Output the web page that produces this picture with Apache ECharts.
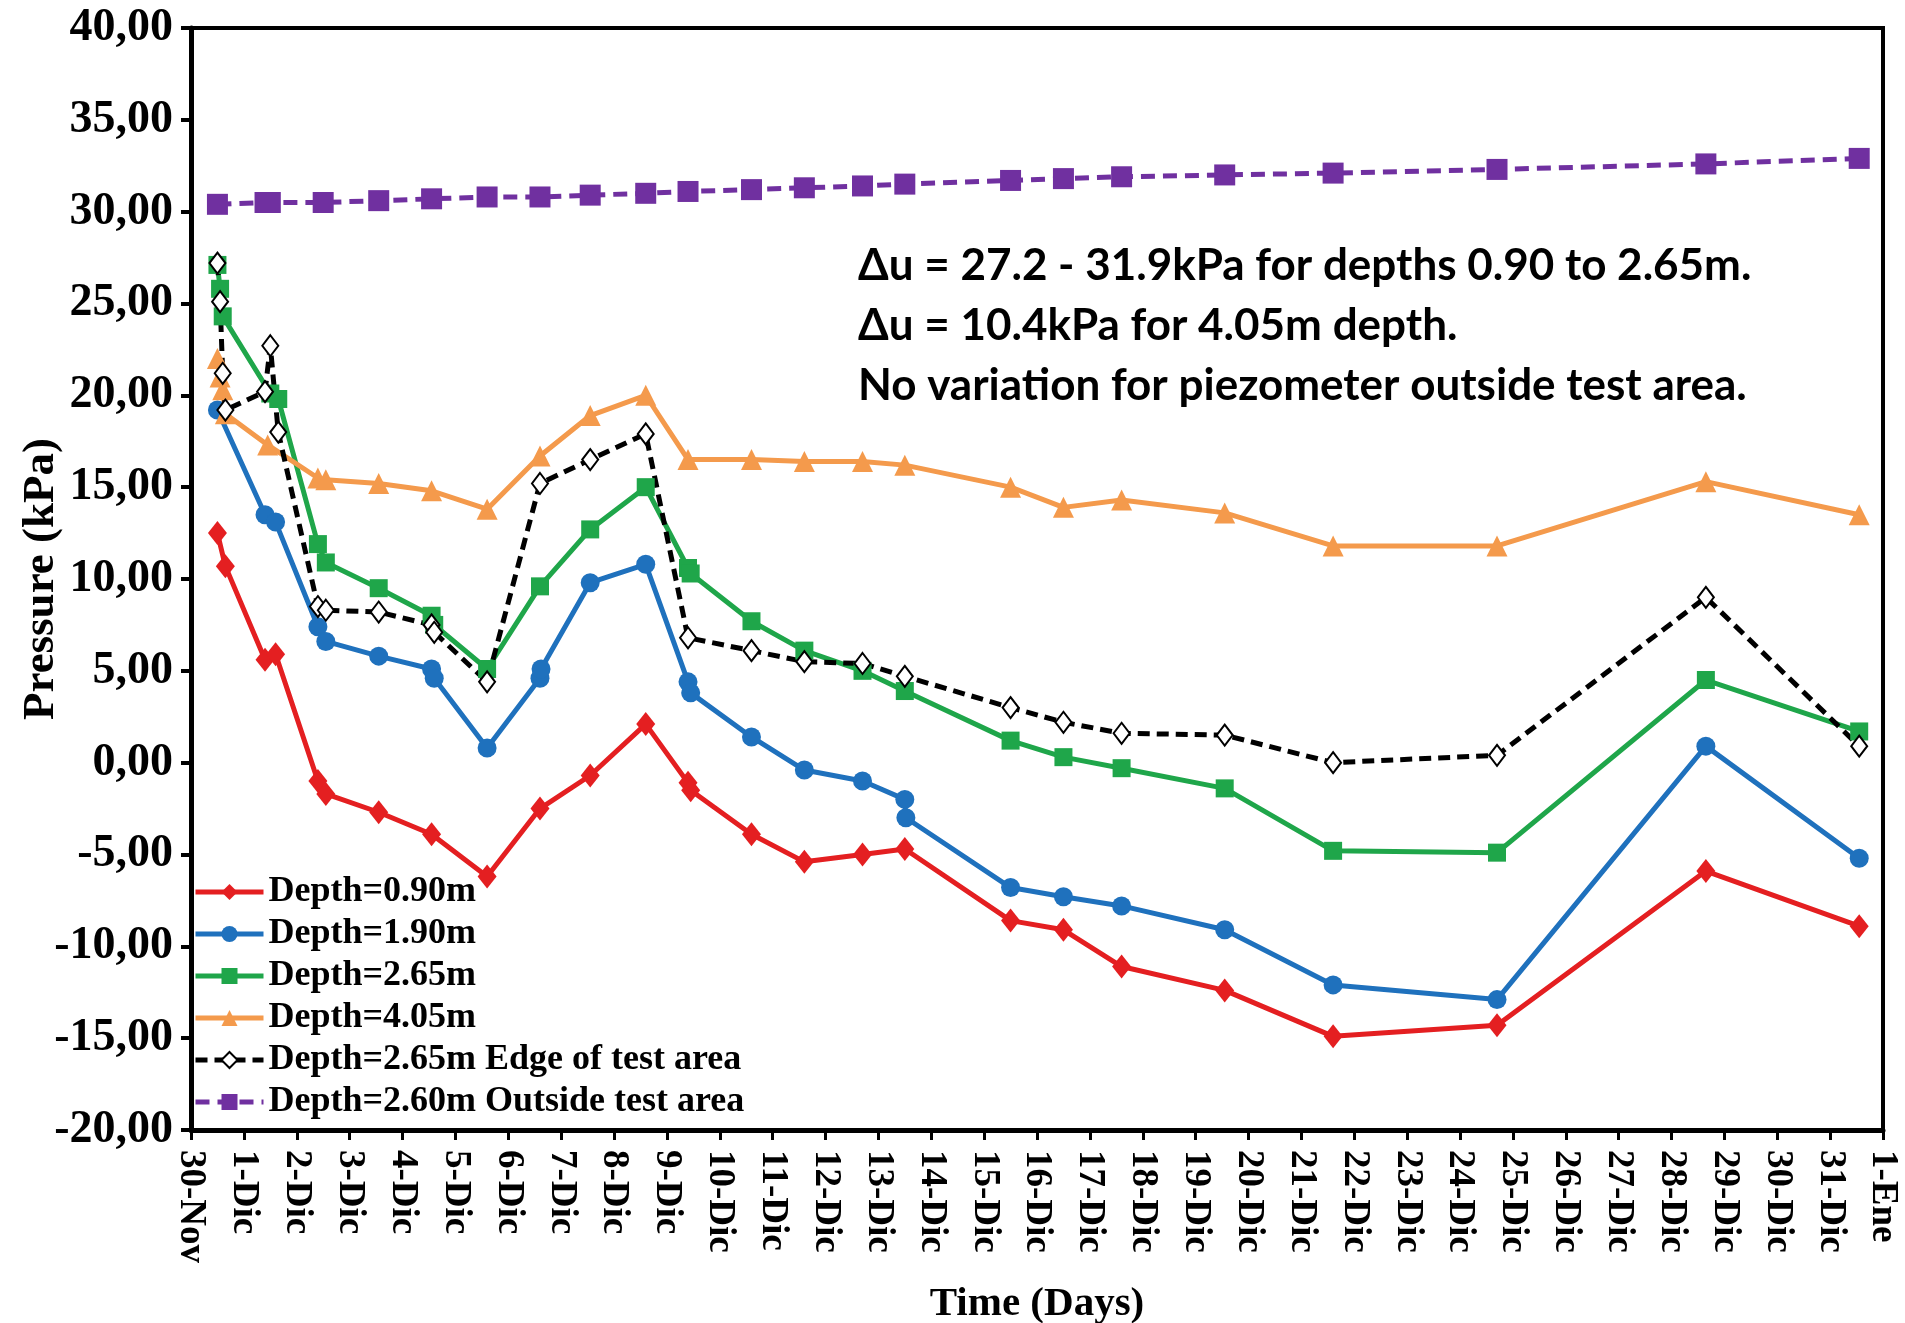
<!DOCTYPE html>
<html>
<head>
<meta charset="utf-8">
<title>Pore pressure vs time</title>
<script src="https://cdn.jsdelivr.net/npm/echarts@6/dist/echarts.min.js"></script>
<style>
  html, body { margin: 0; padding: 0; background: #fff; }
  #chart { width: 1905px; height: 1323px; }
</style>
</head>
<body>
<div id="chart"></div>
<script>
// days after 30-Nov, pressure in kPa
const xTickLabels = ['30-Nov', '1-Dic', '2-Dic', '3-Dic', '4-Dic', '5-Dic', '6-Dic', '7-Dic', '8-Dic', '9-Dic',
  '10-Dic', '11-Dic', '12-Dic', '13-Dic', '14-Dic', '15-Dic', '16-Dic', '17-Dic', '18-Dic', '19-Dic',
  '20-Dic', '21-Dic', '22-Dic', '23-Dic', '24-Dic', '25-Dic', '26-Dic', '27-Dic', '28-Dic', '29-Dic',
  '30-Dic', '31-Dic', '1-Ene'];

const seriesNames = ['Depth=0.90m', 'Depth=1.90m', 'Depth=2.65m', 'Depth=4.05m',
  'Depth=2.65m Edge of test area', 'Depth=2.60m Outside test area'];

const depth090 = [[0.5, 12.5], [0.65, 10.7], [1.4, 5.6], [1.6, 5.9], [2.4, -1.0], [2.55, -1.7], [3.55, -2.7],
  [4.55, -3.9], [5.6, -6.2], [6.6, -2.5], [7.55, -0.7], [8.6, 2.1], [9.4, -1.1], [9.45, -1.5], [10.6, -3.9],
  [11.6, -5.4], [12.7, -5.0], [13.5, -4.7], [15.5, -8.6], [16.5, -9.1], [17.6, -11.1], [19.55, -12.4],
  [21.6, -14.9], [24.7, -14.3], [28.65, -5.9], [31.55, -8.9]];

const depth190 = [[0.5, 19.2], [1.4, 13.5], [1.6, 13.1], [2.4, 7.4], [2.55, 6.6], [3.55, 5.8], [4.55, 5.1],
  [4.6, 4.6], [5.6, 0.8], [6.6, 4.6], [6.62, 5.1], [7.55, 9.8], [8.6, 10.8], [9.4, 4.4], [9.45, 3.8],
  [10.6, 1.4], [11.6, -0.4], [12.7, -1.0], [13.5, -2.0], [13.52, -3.0], [15.5, -6.8], [16.5, -7.3],
  [17.6, -7.8], [19.55, -9.1], [21.6, -12.1], [24.7, -12.9], [28.65, 0.9], [31.55, -5.2]];

const depth265 = [[0.5, 27.1], [0.55, 25.8], [0.6, 24.3], [1.5, 20.1], [1.65, 19.8], [2.4, 11.9], [2.55, 10.9],
  [3.55, 9.5], [4.55, 8.0], [4.6, 7.5], [5.6, 5.1], [6.6, 9.6], [7.55, 12.7], [8.6, 15.0], [9.4, 10.6],
  [9.45, 10.3], [10.6, 7.7], [11.6, 6.1], [12.7, 5.0], [13.5, 3.9], [15.5, 1.2], [16.5, 0.3], [17.6, -0.3],
  [19.55, -1.4], [21.6, -4.8], [24.7, -4.9], [28.65, 4.5], [31.55, 1.7]];

const depth405 = [[0.5, 22.0], [0.55, 21.0], [0.6, 20.3], [0.65, 19.0], [1.45, 17.3], [2.4, 15.5], [2.55, 15.4],
  [3.55, 15.2], [4.55, 14.8], [5.6, 13.8], [6.6, 16.7], [7.55, 18.9], [8.6, 20.0], [9.4, 16.5], [10.6, 16.5],
  [11.6, 16.4], [12.7, 16.4], [13.5, 16.2], [15.5, 15.0], [16.5, 13.9], [17.6, 14.3], [19.55, 13.6],
  [21.6, 11.8], [24.7, 11.8], [28.65, 15.3], [31.55, 13.5]];

const edge265 = [[0.5, 27.2], [0.55, 25.1], [0.6, 21.2], [0.65, 19.2], [1.4, 20.2], [1.5, 22.7], [1.65, 18.0],
  [2.4, 8.5], [2.55, 8.3], [3.55, 8.2], [4.55, 7.5], [4.6, 7.1], [5.6, 4.4], [6.6, 15.2], [7.55, 16.5],
  [8.6, 17.9], [9.4, 6.8], [10.6, 6.1], [11.6, 5.5], [12.7, 5.4], [13.5, 4.7], [15.5, 3.0], [16.5, 2.2],
  [17.6, 1.6], [19.55, 1.5], [21.6, 0.0], [24.7, 0.4], [28.65, 9.0], [31.55, 0.9]];

const outside260 = [[0.5, 30.4], [1.4, 30.5], [1.5, 30.5], [2.5, 30.5], [3.55, 30.6], [4.55, 30.7], [5.6, 30.8],
  [6.6, 30.8], [7.55, 30.9], [8.6, 31.0], [9.4, 31.1], [10.6, 31.2], [11.6, 31.3], [12.7, 31.4], [13.5, 31.5],
  [15.5, 31.7], [16.5, 31.8], [17.6, 31.9], [19.55, 32.0], [21.6, 32.1], [24.7, 32.3], [28.65, 32.6],
  [31.55, 32.9]];

const noteLines = [
  '\u0394u = 27.2 - 31.9kPa for depths 0.90 to 2.65m.',
  '\u0394u = 10.4kPa for 4.05m depth.',
  'No variation for piezometer outside test area.',
];

const serif = '"Liberation Serif", "Times New Roman", serif';

function solid(name, data, color, symbol, size) {
  return {
    name, type: 'line', data, symbol, symbolSize: size,
    lineStyle: { color, width: 5 },
    itemStyle: { color },
  };
}

const chart = echarts.init(document.getElementById('chart'));

chart.setOption({
  animation: false,
  backgroundColor: '#fff',
  grid: {
    left: 191, right: 22, top: 28, bottom: 193,
    outerBoundsMode: 'none',
    show: true, borderColor: '#000', borderWidth: 4,
  },
  legend: {
    data: seriesNames,
    orient: 'vertical',
    left: 193, top: 874, padding: 0,
    itemWidth: 68, itemHeight: 20, itemGap: 6,
    lineStyle: { width: 5 },
    textStyle: { fontFamily: serif, fontWeight: 'bold', fontSize: 36, lineHeight: 36, color: '#000' },
  },
  xAxis: {
    type: 'value', min: 0, max: 32, interval: 1,
    name: 'Time (Days)', nameLocation: 'middle', nameGap: 154, nameMoveOverlap: false,
    nameTextStyle: { fontFamily: serif, fontWeight: 'bold', fontSize: 41, color: '#000' },
    axisLine: { onZero: false, lineStyle: { color: '#000', width: 5 } },
    axisTick: { length: 10, lineStyle: { color: '#000', width: 3 } },
    splitLine: { show: false },
    axisLabel: {
      rotate: -90, margin: 20,
      fontFamily: serif, fontWeight: 'bold', fontSize: 37, color: '#000',
      formatter: (v) => xTickLabels[Math.round(v)] || '',
    },
  },
  yAxis: {
    type: 'value', min: -20, max: 40, interval: 5,
    name: 'Pressure (kPa)', nameLocation: 'middle', nameGap: 127, nameMoveOverlap: false,
    nameTextStyle: { fontFamily: serif, fontWeight: 'bold', fontSize: 45, color: '#000' },
    axisLine: { show: true, onZero: false, lineStyle: { color: '#000', width: 5 } },
    axisTick: { show: true, length: 10, lineStyle: { color: '#000', width: 4 } },
    splitLine: { show: false },
    axisLabel: {
      margin: 18,
      fontFamily: serif, fontWeight: 'bold', fontSize: 46, color: '#000',
      formatter: (v) => v.toFixed(2).replace('.', ','),
    },
  },
  graphic: [{
    type: 'text',
    left: 858, top: 236,
    style: {
      text: noteLines.join('\n'),
      font: 'bold 44px Lato, "Open Sans", sans-serif',
      lineHeight: 60,
      fill: '#000',
    },
  }],
  series: [
    solid(seriesNames[0], depth090, '#e41f21', 'diamond', [19, 24]),
    solid(seriesNames[1], depth190, '#1f71bd', 'circle', 19),
    solid(seriesNames[2], depth265, '#1fa64a', 'rect', 18),
    solid(seriesNames[3], depth405, '#f49a4c', 'triangle', 21),
    {
      name: seriesNames[4], type: 'line', data: edge265,
      symbol: 'diamond', symbolSize: [16, 21],
      lineStyle: { color: '#000', width: 5, type: [12, 7] },
      itemStyle: { color: '#fff', borderColor: '#000', borderWidth: 2 },
    },
    {
      name: seriesNames[5], type: 'line', data: outside260,
      symbol: 'rect', symbolSize: 21,
      lineStyle: { color: '#7030a0', width: 5, type: [14, 8] },
      itemStyle: { color: '#7030a0' },
    },
  ],
});

window.addEventListener('resize', () => chart.resize());
</script>
</body>
</html>
